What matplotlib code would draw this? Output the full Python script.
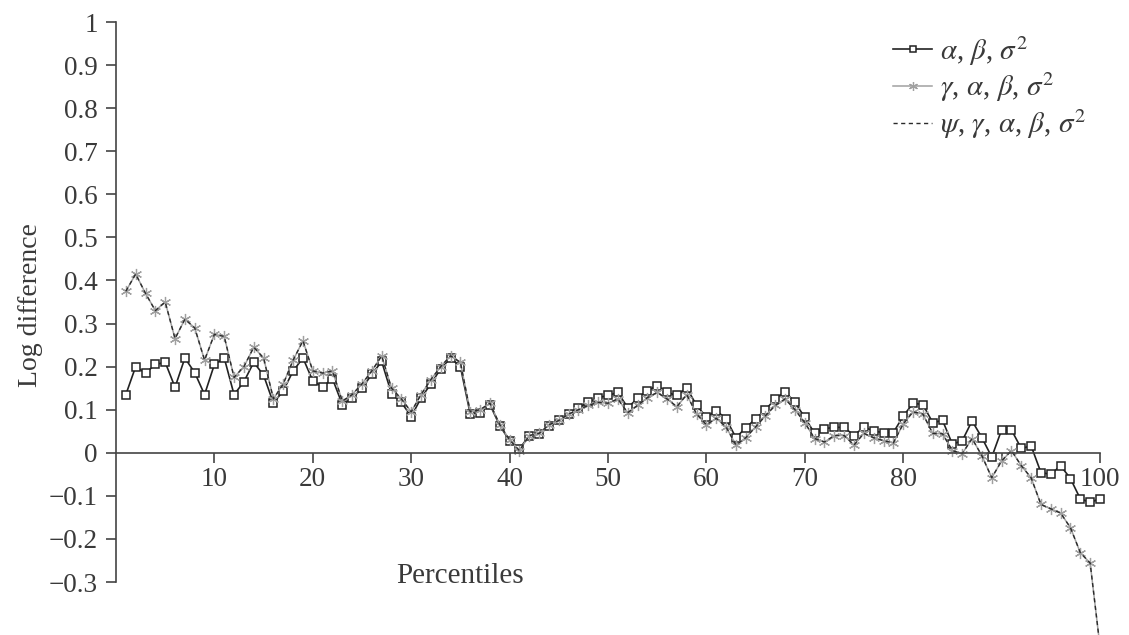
import numpy as np
import matplotlib
matplotlib.use("Agg")
import matplotlib.pyplot as plt
from matplotlib.ticker import FixedLocator, FixedFormatter

# percentiles 1..100
percentiles = np.arange(1, 101)

# alpha, beta, sigma^2 (squares)
series_a = [0.135, 0.2, 0.185, 0.205, 0.21, 0.152, 0.22, 0.186, 0.135, 0.205,
            0.22, 0.135, 0.165, 0.21, 0.18, 0.115, 0.144, 0.19, 0.22, 0.167,
            0.153, 0.172, 0.112, 0.126, 0.15, 0.182, 0.212, 0.137, 0.117, 0.084,
            0.127, 0.16, 0.195, 0.22, 0.2, 0.09, 0.093, 0.112, 0.063, 0.028,
            0.009, 0.04, 0.044, 0.063, 0.075, 0.09, 0.105, 0.117, 0.128, 0.133,
            0.14, 0.105, 0.126, 0.144, 0.156, 0.14, 0.133, 0.151, 0.11, 0.083,
            0.098, 0.079, 0.035, 0.058, 0.079, 0.1, 0.125, 0.142, 0.117, 0.082,
            0.045, 0.056, 0.059, 0.059, 0.04, 0.06, 0.05, 0.047, 0.047, 0.085,
            0.115, 0.112, 0.07, 0.075, 0.02, 0.028, 0.074, 0.035, -0.01, 0.053,
            0.053, 0.01, 0.016, -0.046, -0.05, -0.03, -0.06, -0.107, -0.115, -0.107]

# gamma, alpha, beta, sigma^2 (stars)
series_b = [0.375, 0.415, 0.37, 0.33, 0.35, 0.265, 0.31, 0.29, 0.215, 0.275,
            0.27, 0.175, 0.2, 0.245, 0.22, 0.125, 0.16, 0.215, 0.26, 0.19,
            0.185, 0.19, 0.12, 0.135, 0.16, 0.19, 0.225, 0.15, 0.125, 0.095,
            0.135, 0.17, 0.2, 0.225, 0.21, 0.095, 0.1, 0.115, 0.065, 0.03,
            0.005, 0.04, 0.045, 0.065, 0.075, 0.09, 0.1, 0.11, 0.117, 0.115,
            0.125, 0.093, 0.11, 0.128, 0.14, 0.125, 0.107, 0.135, 0.09, 0.065,
            0.08, 0.06, 0.018, 0.035, 0.06, 0.086, 0.11, 0.125, 0.1, 0.07,
            0.033, 0.025, 0.04, 0.04, 0.018, 0.045, 0.035, 0.028, 0.023, 0.067,
            0.095, 0.09, 0.045, 0.044, 0.005, -0.002, 0.033, -0.007, -0.058, -0.019,
            0.005, -0.03, -0.058, -0.12, -0.13, -0.14, -0.174, -0.232, -0.256, -0.45]

# psi, gamma, alpha, beta, sigma^2 (dashed) - sits on top of series_b
series_c = [0.375, 0.415, 0.37, 0.33, 0.35, 0.265, 0.31, 0.29, 0.215, 0.275,
            0.27, 0.175, 0.2, 0.245, 0.22, 0.125, 0.16, 0.215, 0.26, 0.19,
            0.185, 0.19, 0.12, 0.135, 0.16, 0.19, 0.225, 0.15, 0.125, 0.095,
            0.135, 0.17, 0.2, 0.225, 0.21, 0.095, 0.1, 0.115, 0.065, 0.03,
            0.005, 0.04, 0.045, 0.065, 0.075, 0.09, 0.1, 0.11, 0.117, 0.115,
            0.125, 0.093, 0.11, 0.128, 0.14, 0.125, 0.107, 0.135, 0.09, 0.065,
            0.08, 0.06, 0.018, 0.035, 0.06, 0.086, 0.11, 0.125, 0.1, 0.07,
            0.033, 0.025, 0.04, 0.04, 0.018, 0.045, 0.035, 0.028, 0.023, 0.067,
            0.095, 0.09, 0.045, 0.044, 0.005, -0.002, 0.033, -0.007, -0.058, -0.019,
            0.005, -0.03, -0.058, -0.12, -0.13, -0.14, -0.174, -0.232, -0.256, -0.45]

labels = [r'$\alpha$, $\beta$, $\sigma^2$',
          r'$\gamma$, $\alpha$, $\beta$, $\sigma^2$',
          r'$\psi$, $\gamma$, $\alpha$, $\beta$, $\sigma^2$']

y_ticks = [-0.3, -0.2, -0.1, 0, 0.1, 0.2, 0.3, 0.4, 0.5, 0.6, 0.7, 0.8, 0.9, 1]
y_tick_labels = ['\u22120.3', '\u22120.2', '\u22120.1', '0', '0.1', '0.2', '0.3',
                 '0.4', '0.5', '0.6', '0.7', '0.8', '0.9', '1']
x_ticks = [10, 20, 30, 40, 50, 60, 70, 80, 90, 100]
x_tick_labels = ['10', '20', '30', '40', '50', '60', '70', '80', '', '100']

plt.rcParams['font.family'] = 'Liberation Serif'
plt.rcParams['mathtext.fontset'] = 'stix'
txt = '#3a3a3a'

fig = plt.figure(figsize=(11.29, 6.35), dpi=100)
ax = fig.add_axes([116/1129, 53/635, 984/1129, 560/635])

ax.plot(percentiles, series_a, color='#222222', lw=1.2, marker='s', ms=6,
        mfc='white', mec='#222222', mew=1.1, clip_on=False, label=labels[0])
ax.plot(percentiles, series_b, color='#a0a0a0', lw=1.1, marker=(6, 2, 0), ms=8,
        mec='#a0a0a0', mew=0.9, clip_on=False, label=labels[1])
ax.plot(percentiles, series_c, color='#2a2a2a', lw=1.0, ls=(0, (3, 2.5)),
        clip_on=False, label=labels[2])

ax.set_xlim(0, 100)
ax.set_ylim(-0.3, 1)
for s in ['top', 'right']:
    ax.spines[s].set_visible(False)
ax.spines['bottom'].set_position(('data', 0))
for s in ['left', 'bottom']:
    ax.spines[s].set_color('#444444')
    ax.spines[s].set_linewidth(1.2)

ax.yaxis.set_major_locator(FixedLocator(y_ticks))
ax.yaxis.set_major_formatter(FixedFormatter(y_tick_labels))
ax.xaxis.set_major_locator(FixedLocator(x_ticks))
ax.xaxis.set_major_formatter(FixedFormatter(x_tick_labels))
ax.tick_params(axis='both', direction='out', length=7, width=1.2, color='#444444',
               labelsize=19.5, labelcolor=txt)
ax.tick_params(axis='y', pad=6)
ax.tick_params(axis='x', pad=3)

ax.set_xlabel('Percentiles', fontsize=21, color=txt)
ax.xaxis.set_label_coords(0.35, 0.01)
ax.xaxis.label.set_va('center')
ax.set_ylabel('Log difference', fontsize=20, color=txt)
ax.yaxis.set_label_coords(-0.087, 0.495)
ax.yaxis.label.set_va('center')

leg = ax.legend(loc='upper left', bbox_to_anchor=(893/1129, 1 - 34/635),
                bbox_transform=fig.transFigure, frameon=False, fontsize=21,
                handlelength=1.35, handletextpad=0.25, labelspacing=0.1,
                borderpad=0, borderaxespad=0, markerscale=0.8)
for t in leg.get_texts():
    t.set_color(txt)

fig.savefig('out.png', dpi=100)
